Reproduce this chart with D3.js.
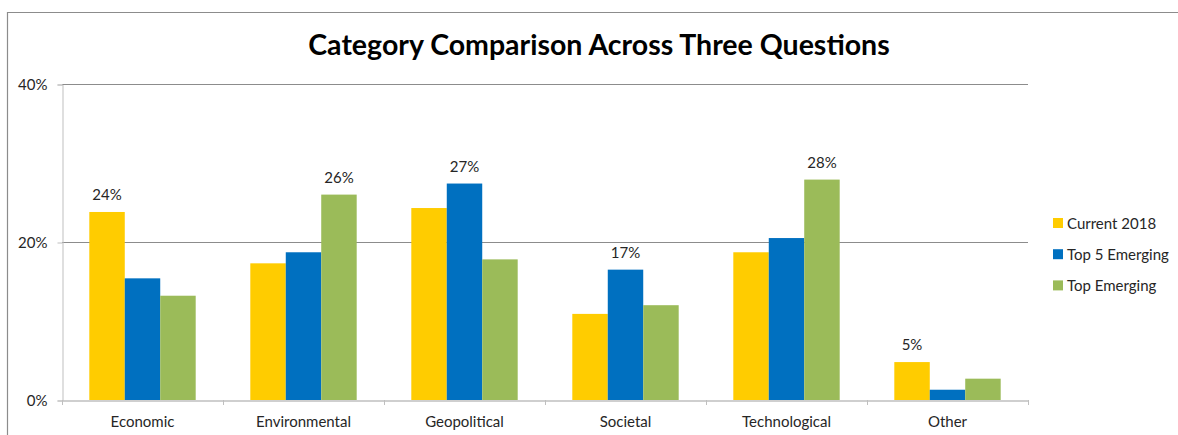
<!DOCTYPE html>
<html>
<head>
<meta charset="utf-8">
<script src="https://cdn.jsdelivr.net/npm/d3@7"></script>
<style>
  body { margin: 0; background: #fff; }
  text { font-family: Lato, "Open Sans", sans-serif; }
</style>
</head>
<body>
<div id="chart"></div>
<script>
// Category comparison - grouped bars, three questions
const categories = ["Economic", "Environmental", "Geopolitical", "Societal", "Technological", "Other"];
const seriesNames = ["Current 2018", "Top 5 Emerging", "Top Emerging"];
const current2018  = [23.8, 17.3, 24.3, 10.9, 18.7, 4.8];
const top5Emerging = [15.4, 18.7, 27.4, 16.5, 20.5, 1.3];
const topEmerging  = [13.2, 26.0, 17.8, 12.0, 27.9, 2.7];
const yTicks = [0, 20, 40];
// which bar in each category carries a label: [category, series index, text]
const barLabels = [
  ["Economic", 0, "24%"],
  ["Environmental", 2, "26%"],
  ["Geopolitical", 1, "27%"],
  ["Societal", 1, "17%"],
  ["Technological", 2, "28%"],
  ["Other", 0, "5%"]
];

const colors = ["#ffcc00", "#0070c0", "#9bbb59"];
const width = 1178, height = 435;
const margin = { top: 84, left: 62, right: 150, bottom: 35 };

const svg = d3.select("#chart").append("svg")
  .attr("width", width)
  .attr("height", height);

// outer chart border (top + left visible)
svg.append("path")
  .attr("d", `M7.5,${height} V12.5 H${width}`)
  .attr("fill", "none")
  .attr("stroke", "#8c8c8c")
  .attr("stroke-width", 1.2);

svg.append("text")
  .attr("x", 599)
  .attr("y", 55)
  .attr("text-anchor", "middle")
  .style("font-size", "28.5px")
  .style("font-weight", "bold")
  .style("fill", "#000")
  .text("Category Comparison Across Three Questions");

const x0 = d3.scaleBand()
  .domain(categories)
  .range([margin.left, 1028])
  .paddingInner(0)
  .paddingOuter(0);

const x1 = d3.scaleBand()
  .domain(d3.range(3))
  .range([0, x0.bandwidth()])
  .paddingOuter(0.77)
  .paddingInner(0);

const y = d3.scaleLinear()
  .domain([0, 40])
  .range([400, 84]);

// gridlines
svg.append("g")
  .selectAll("line")
  .data(yTicks.filter(d => d > 0))
  .join("line")
  .attr("x1", margin.left).attr("x2", 1028)
  .attr("y1", d => Math.round(y(d)) + 0.5)
  .attr("y2", d => Math.round(y(d)) + 0.5)
  .attr("stroke", "#8c8c8c")
  .attr("stroke-width", 1);

// y axis
const yAxis = svg.append("g")
  .attr("transform", `translate(${margin.left + 0.5},0.5)`)
  .call(d3.axisLeft(y).tickValues(yTicks).tickFormat(d => d + "%").tickSize(5).tickPadding(10));
yAxis.select(".domain").attr("stroke", "#bfbfbf");
yAxis.selectAll(".tick line").attr("stroke", "#bfbfbf");
yAxis.selectAll(".tick text")
  .style("font-size", "15px")
  .style("font-family", "Lato, sans-serif")
  .attr("fill", "#262626");

// bars
const rows = categories.map((c, i) => ({
  cat: c,
  vals: [current2018[i], top5Emerging[i], topEmerging[i]]
}));

const groups = svg.append("g")
  .selectAll("g")
  .data(rows)
  .join("g")
  .attr("transform", d => `translate(${x0(d.cat)},0)`);

groups.selectAll("rect")
  .data(d => d.vals.map((v, k) => ({ v, k })))
  .join("rect")
  .attr("x", d => x1(d.k))
  .attr("width", x1.bandwidth())
  .attr("y", d => y(d.v))
  .attr("height", d => y(0) - y(d.v))
  .attr("fill", d => colors[d.k]);

// x axis
const xAxis = svg.append("g")
  .attr("transform", `translate(0,${y(0) + 0.5})`)
  .call(d3.axisBottom(x0).tickSize(0).tickPadding(16));
xAxis.select(".domain").attr("stroke", "#bfbfbf").attr("stroke-width", 1.5);
xAxis.selectAll(".tick text")
  .style("font-size", "15px")
  .style("font-family", "Lato, sans-serif")
  .attr("fill", "#262626");

// category boundary ticks
svg.append("g")
  .selectAll("line")
  .data(categories.concat(["end"]))
  .join("line")
  .attr("x1", (d, i) => Math.round(i < categories.length ? x0(d) : x0.range()[1]) + 0.5)
  .attr("x2", (d, i) => Math.round(i < categories.length ? x0(d) : x0.range()[1]) + 0.5)
  .attr("y1", y(0))
  .attr("y2", y(0) + 5)
  .attr("stroke", "#bfbfbf");

// data labels
svg.append("g")
  .selectAll("text")
  .data(barLabels)
  .join("text")
  .attr("x", d => x0(d[0]) + x1(d[1]) + x1.bandwidth() / 2)
  .attr("y", d => y(rows.find(r => r.cat === d[0]).vals[d[1]]) - 12)
  .attr("text-anchor", "middle")
  .style("font-size", "15px")
  .style("fill", "#262626")
  .text(d => d[2]);

// legend
const legend = svg.append("g")
  .attr("transform", "translate(1053,223)");
seriesNames.forEach((name, i) => {
  const g = legend.append("g").attr("transform", `translate(0,${i * 31.2})`);
  g.append("rect")
    .attr("x", 0).attr("y", -5)
    .attr("width", 10).attr("height", 10)
    .attr("fill", colors[i]);
  g.append("text")
    .attr("x", 14).attr("y", 5.5)
    .style("font-size", "15px")
    .style("fill", "#262626")
    .text(name);
});
</script>
</body>
</html>
